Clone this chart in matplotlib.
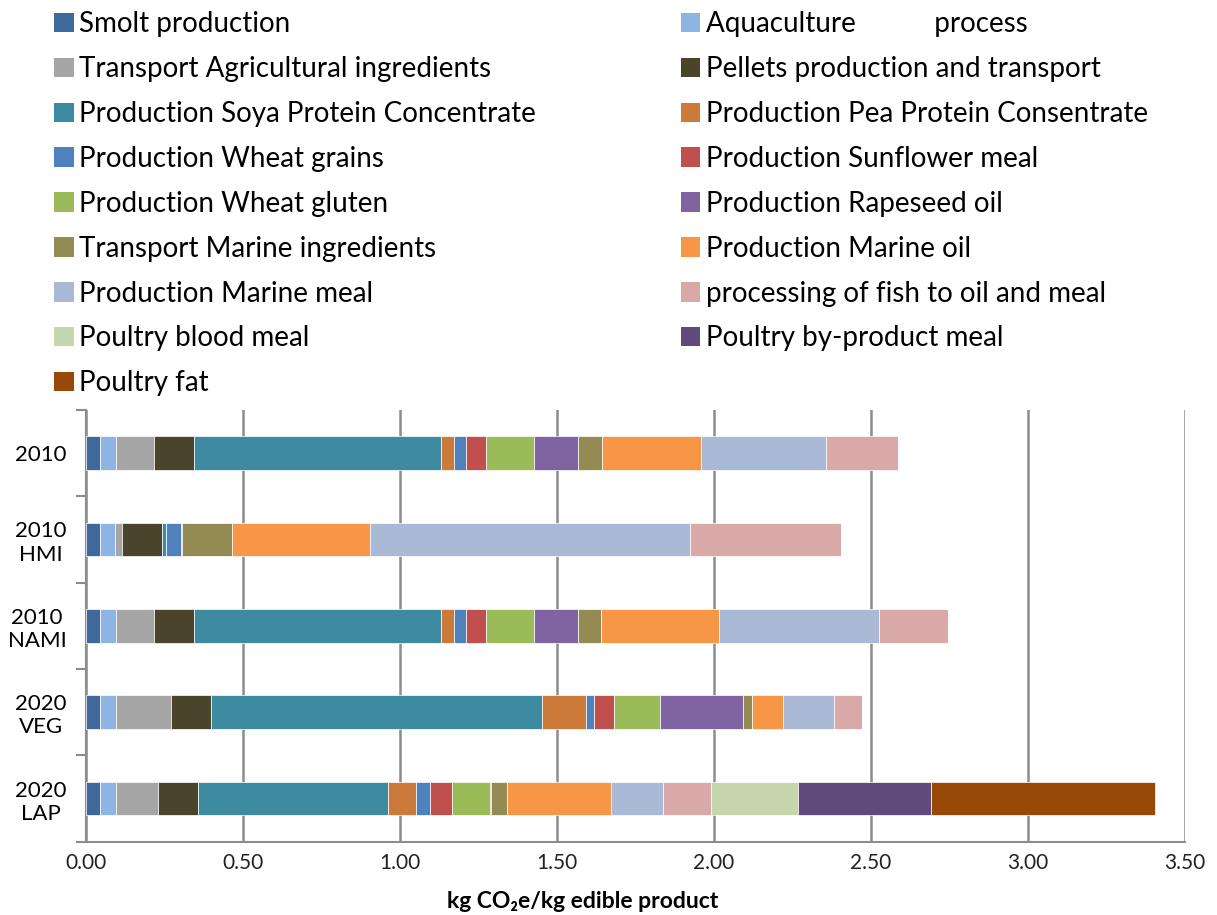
import numpy as np
import matplotlib.pyplot as plt
from matplotlib.patches import Patch

plt.rcParams['font.family'] = ['Lato', 'DejaVu Sans']

# Scenarios (top to bottom)
categories = ["2010", "2010\nHMI", "2010\nNAMI", "2020\nVEG", "2020\nLAP"]

# kg CO2e/kg edible product per contribution, one value per scenario
smolt = [0.045, 0.045, 0.045, 0.045, 0.045]
aquaculture = [0.051, 0.048, 0.051, 0.050, 0.051]
transport_agri = [0.119, 0.023, 0.119, 0.177, 0.132]
pellets = [0.128, 0.125, 0.128, 0.127, 0.127]
soya_spc = [0.786, 0.013, 0.786, 1.052, 0.606]
pea_ppc = [0.042, 0.0, 0.042, 0.142, 0.090]
wheat_grains = [0.039, 0.048, 0.039, 0.024, 0.043]
sunflower = [0.063, 0.0, 0.063, 0.065, 0.073]
wheat_gluten = [0.155, 0.0, 0.155, 0.145, 0.121]
rapeseed_oil = [0.140, 0.004, 0.140, 0.265, 0.003]
transport_marine = [0.076, 0.160, 0.073, 0.029, 0.050]
marine_oil = [0.313, 0.437, 0.376, 0.098, 0.331]
marine_meal = [0.401, 1.019, 0.507, 0.164, 0.167]
fish_processing = [0.228, 0.481, 0.222, 0.087, 0.150]
poultry_blood = [0.0, 0.0, 0.0, 0.0, 0.277]
poultry_byproduct = [0.0, 0.0, 0.0, 0.0, 0.424]
poultry_fat = [0.0, 0.0, 0.0, 0.0, 0.713]

labels = [
    "Smolt production", "Aquaculture           process",
    "Transport Agricultural ingredients", "Pellets production and transport",
    "Production Soya Protein Concentrate", "Production Pea Protein Consentrate",
    "Production Wheat grains", "Production Sunflower meal",
    "Production Wheat gluten", "Production Rapeseed oil",
    "Transport Marine ingredients", "Production Marine oil",
    "Production Marine meal", "processing of fish to oil and meal",
    "Poultry blood meal", "Poultry by-product meal", "Poultry fat",
]
series = [smolt, aquaculture, transport_agri, pellets, soya_spc, pea_ppc,
          wheat_grains, sunflower, wheat_gluten, rapeseed_oil, transport_marine,
          marine_oil, marine_meal, fish_processing, poultry_blood,
          poultry_byproduct, poultry_fat]
colors = ["#3F699C", "#8DB4E2", "#A5A5A5", "#4A452A", "#3C8BA1", "#CC7A39",
          "#4F81BD", "#C0504D", "#9BBB59", "#8064A2", "#948A54", "#F79646",
          "#A9B9D6", "#D9A9A8", "#C6D7AD", "#604A7B", "#984807"]

fig = plt.figure(figsize=(12.17, 9.15), dpi=100)
ax = fig.add_axes([0.0707, 0.080, 0.903, 0.472])

y = np.arange(len(categories))
left = np.zeros(len(categories))
for vals, col, lab in zip(series, colors, labels):
    vals = np.array(vals)
    ax.barh(y, vals, left=left, height=0.39, color=col, edgecolor="white",
            linewidth=0.5, label=lab, zorder=3)
    left += vals

ax.set_xlim(0, 3.5)
ax.set_ylim(4.5, -0.5)
ax.set_xticks(np.arange(0, 3.51, 0.5))
ax.set_xticklabels([f"{v:.2f}" for v in np.arange(0, 3.51, 0.5)], fontsize=15)
ax.set_yticks(y)
ax.set_yticklabels(categories, fontsize=16, multialignment="center")
ax.set_yticks(np.arange(-0.5, 5.0, 1.0), minor=True)
ax.tick_params(axis="y", which="major", length=0, pad=14)
ax.tick_params(axis="y", which="minor", length=7, color="#8C8C8C", width=1.5)
ax.tick_params(axis="x", length=0, pad=8, colors="#222222")

ax.grid(axis="x", color="#8C8C8C", linewidth=1.8, zorder=0)
ax.set_axisbelow(True)
for s in ["top", "right"]:
    ax.spines[s].set_visible(False)
for s in ["left", "bottom"]:
    ax.spines[s].set_color("#8C8C8C")
    ax.spines[s].set_linewidth(1.5)

ax.set_xlabel("kg CO\u2082e/kg edible product", fontsize=16.5, fontweight="bold")
ax.xaxis.set_label_coords(0.452, -0.113)

# legend laid out row by row: reorder so column-major fill gives that order
handles = [Patch(facecolor=c, edgecolor="none") for c in colors]
order = list(range(0, len(labels), 2)) + list(range(1, len(labels), 2))
fig.legend([handles[i] for i in order], [labels[i] for i in order],
           loc="upper left", bbox_to_anchor=(0.024, 1.015), ncol=2,
           frameon=False, fontsize=20, handlelength=0.7, handleheight=0.7,
           handletextpad=0.2, labelspacing=0.68, columnspacing=5.2)

plt.savefig("out.png", dpi=100)
